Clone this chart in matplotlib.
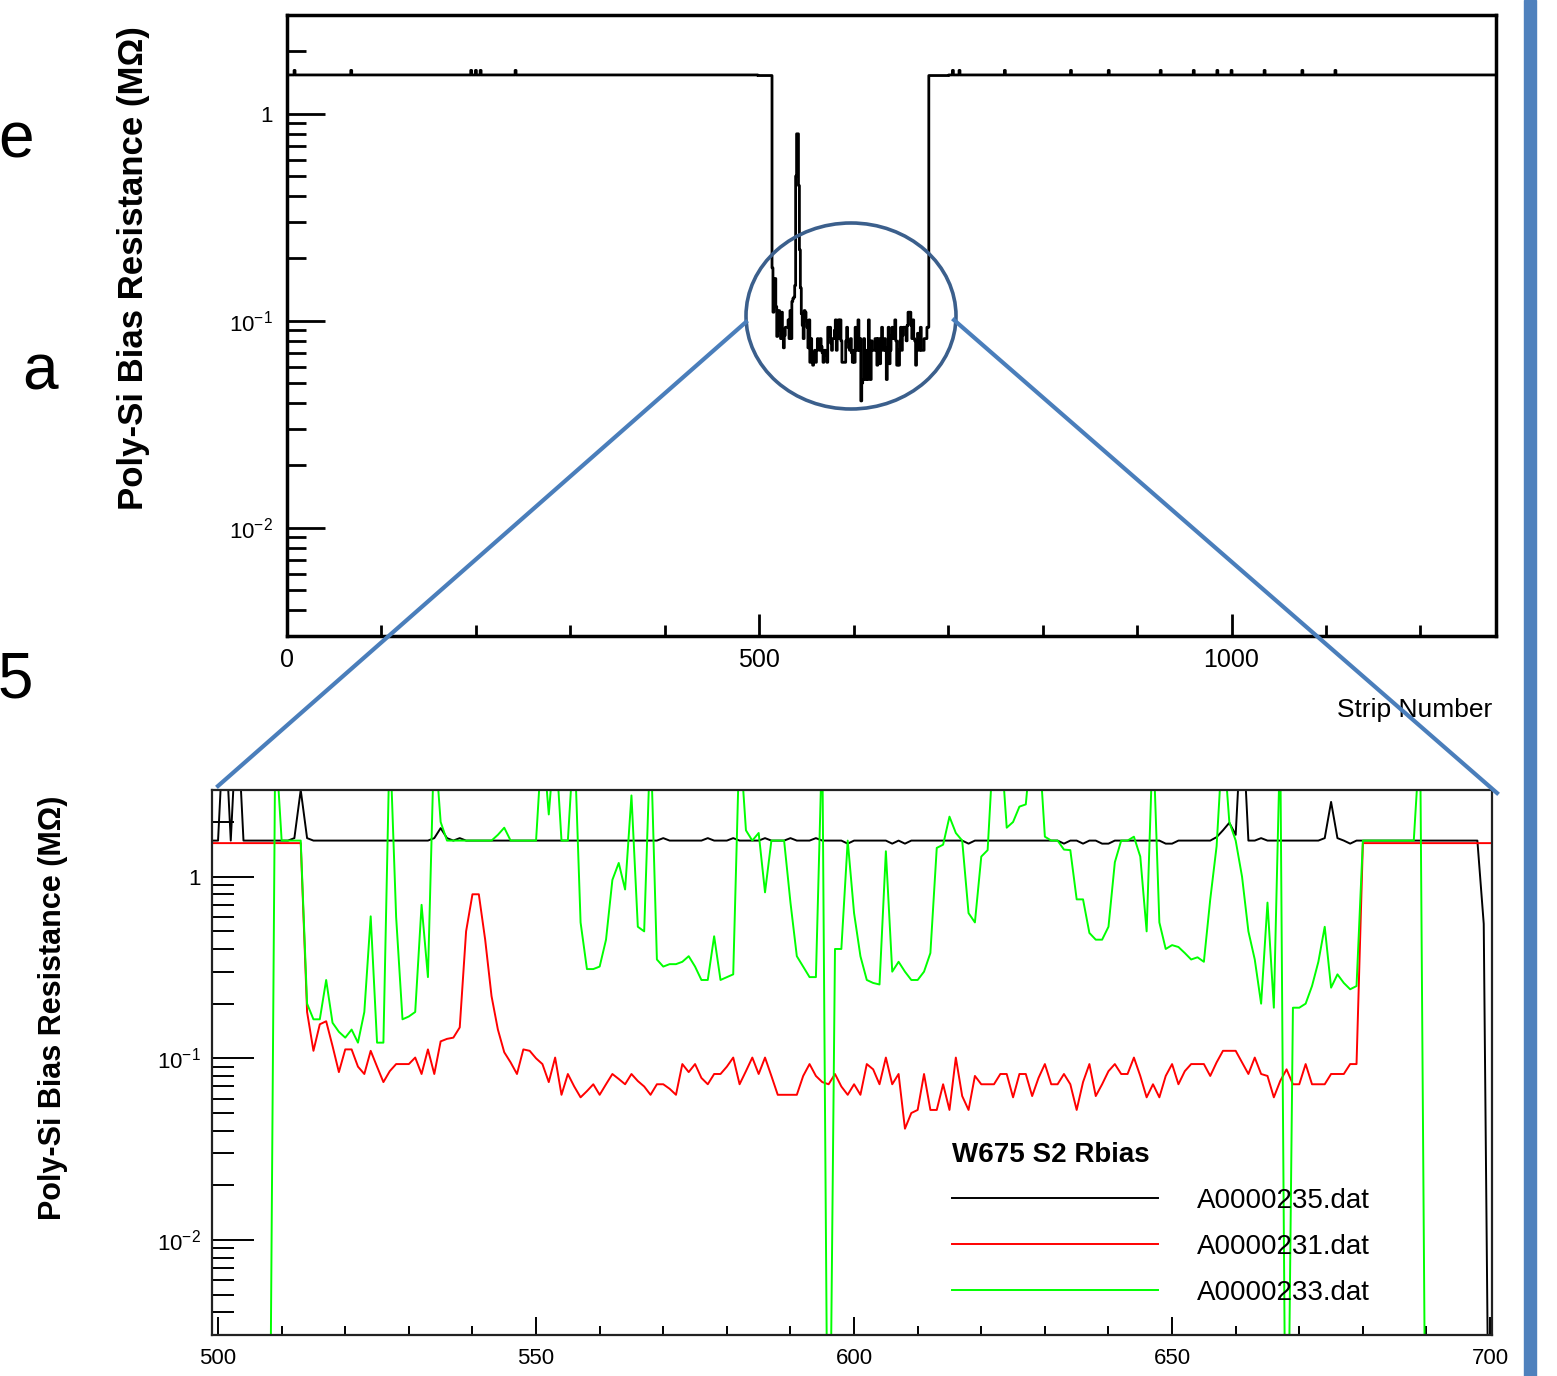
import numpy as np
import matplotlib
matplotlib.use("Agg")
import matplotlib.pyplot as plt
from matplotlib import ticker
from matplotlib.patches import Ellipse, Rectangle
from matplotlib.lines import Line2D
from matplotlib.transforms import Affine2D

plt.rcParams['font.family'] = ['Liberation Sans', 'DejaVu Sans']
plt.rcParams['mathtext.fontset'] = 'custom'
plt.rcParams['mathtext.rm'] = 'Liberation Sans'
plt.rcParams['mathtext.it'] = 'Liberation Sans:italic'
plt.rcParams['mathtext.bf'] = 'Liberation Sans:bold'

# ---- data (strip number vs poly-Si bias resistance in MOhm) ----
strips = np.arange(499, 701)

# A0000235.dat (black), strips 499..700
rbias_235 = [
    1.58, 1.58, 8.0, 1.58, 8.0, 1.58, 1.58, 1.58, 1.58, 1.58,
    1.58, 1.58, 1.58, 1.63, 3.0, 1.63, 1.58, 1.58, 1.58, 1.58,
    1.58, 1.58, 1.58, 1.58, 1.58, 1.58, 1.58, 1.58, 1.58, 1.58,
    1.58, 1.58, 1.58, 1.58, 1.58, 1.63, 1.85, 1.63, 1.58, 1.63,
    1.58, 1.58, 1.58, 1.58, 1.58, 1.58, 1.58, 1.58, 1.58, 1.58,
    1.58, 1.58, 1.58, 1.58, 1.58, 1.58, 1.58, 1.58, 1.58, 1.58,
    1.58, 1.58, 1.58, 1.58, 1.58, 1.58, 1.58, 1.58, 1.58, 1.58,
    1.58, 1.63, 1.58, 1.58, 1.58, 1.58, 1.58, 1.58, 1.63, 1.58,
    1.58, 1.58, 1.63, 1.58, 1.58, 1.58, 1.58, 1.63, 1.58, 1.58,
    1.58, 1.63, 1.58, 1.58, 1.58, 1.63, 1.58, 1.58, 1.58, 1.58,
    1.52, 1.58, 1.58, 1.58, 1.58, 1.58, 1.58, 1.52, 1.58, 1.52,
    1.58, 1.58, 1.58, 1.58, 1.58, 1.58, 1.58, 1.58, 1.58, 1.52,
    1.58, 1.58, 1.58, 1.58, 1.58, 1.58, 1.58, 1.58, 1.58, 1.58,
    1.58, 1.58, 1.58, 1.58, 1.52, 1.58, 1.58, 1.52, 1.58, 1.58,
    1.52, 1.52, 1.58, 1.58, 1.58, 1.58, 1.58, 1.58, 1.58, 1.58,
    1.52, 1.52, 1.58, 1.58, 1.58, 1.58, 1.58, 1.58, 1.65, 1.8,
    1.98, 1.7, 8.0, 1.58, 1.58, 1.63, 1.58, 1.58, 1.58, 1.58,
    1.58, 1.58, 1.58, 1.58, 1.58, 1.63, 2.58, 1.63, 1.58, 1.52,
    1.58, 1.58, 1.58, 1.58, 1.58, 1.58, 1.58, 1.58, 1.58, 1.58,
    1.58, 1.58, 1.58, 1.58, 1.58, 1.58, 1.58, 1.58, 1.58, 1.58,
    0.55, 1e-4,
]

# A0000231.dat (red), strips 499..700
rbias_231 = [
    1.53, 1.53, 1.53, 1.53, 1.53, 1.53, 1.53, 1.53, 1.53, 1.53,
    1.53, 1.53, 1.53, 1.53, 1.53, 0.18, 0.11, 0.154, 0.16, 0.117,
    0.084, 0.112, 0.112, 0.09, 0.082, 0.11, 0.09, 0.074, 0.085, 0.093,
    0.093, 0.093, 0.101, 0.082, 0.112, 0.082, 0.124, 0.128, 0.13, 0.148,
    0.5, 0.8, 0.8, 0.45, 0.22, 0.144, 0.108, 0.095, 0.082, 0.112,
    0.11, 0.1, 0.093, 0.074, 0.101, 0.063, 0.082, 0.07, 0.061, 0.066,
    0.072, 0.063, 0.072, 0.082, 0.077, 0.072, 0.082, 0.075, 0.07, 0.063,
    0.072, 0.072, 0.068, 0.063, 0.093, 0.084, 0.093, 0.078, 0.072, 0.082,
    0.082, 0.09, 0.101, 0.072, 0.085, 0.101, 0.082, 0.101, 0.08, 0.063,
    0.063, 0.063, 0.063, 0.08, 0.093, 0.08, 0.074, 0.072, 0.082, 0.07,
    0.063, 0.072, 0.063, 0.093, 0.087, 0.072, 0.101, 0.072, 0.082, 0.041,
    0.05, 0.052, 0.082, 0.052, 0.052, 0.072, 0.052, 0.101, 0.062, 0.052,
    0.08, 0.072, 0.072, 0.072, 0.082, 0.082, 0.061, 0.082, 0.082, 0.062,
    0.078, 0.093, 0.072, 0.072, 0.082, 0.072, 0.052, 0.074, 0.093, 0.062,
    0.072, 0.085, 0.093, 0.082, 0.082, 0.101, 0.08, 0.061, 0.072, 0.061,
    0.08, 0.093, 0.072, 0.085, 0.093, 0.093, 0.093, 0.08, 0.095, 0.11,
    0.11, 0.11, 0.095, 0.082, 0.101, 0.082, 0.08, 0.061, 0.075, 0.087,
    0.072, 0.072, 0.093, 0.072, 0.072, 0.072, 0.082, 0.082, 0.082, 0.093,
    0.093, 1.53, 1.53, 1.53, 1.53, 1.53, 1.53, 1.53, 1.53, 1.53,
    1.53, 1.53, 1.53, 1.53, 1.53, 1.53, 1.53, 1.53, 1.53, 1.53,
    1.53, 1.53,
]

# A0000233.dat (green), strips 499..700
rbias_233 = [
    1e-4, 1e-4, 1e-4, 1e-4, 1e-4, 1e-4, 1e-4, 1e-4, 1e-4, 1e-4,
    6.0, 1.58, 1.58, 1.58, 1.58, 0.2, 0.164, 0.164, 0.27, 0.157,
    0.14, 0.13, 0.144, 0.122, 0.18, 0.605, 0.122, 0.122, 6.0, 0.6,
    0.164, 0.17, 0.18, 0.7, 0.28, 6.0, 2.0, 1.58, 1.58, 1.58,
    1.58, 1.58, 1.58, 1.58, 1.58, 1.7, 1.86, 1.58, 1.58, 1.58,
    1.58, 1.58, 6.0, 2.2, 6.0, 1.58, 1.58, 6.0, 0.56, 0.31,
    0.31, 0.32, 0.45, 0.96, 1.19, 0.85, 2.8, 0.53, 0.5, 6.0,
    0.35, 0.32, 0.33, 0.33, 0.34, 0.365, 0.32, 0.27, 0.27, 0.47,
    0.27, 0.28, 0.29, 6.0, 1.8, 1.58, 1.74, 0.82, 1.58, 1.58,
    1.58, 0.72, 0.365, 0.32, 0.28, 0.28, 6.0, 1e-4, 0.4, 0.4,
    1.58, 0.63, 0.365, 0.27, 0.26, 0.255, 1.38, 0.3, 0.34, 0.3,
    0.27, 0.27, 0.3, 0.38, 1.44, 1.5, 2.14, 1.74, 1.58, 0.63,
    0.56, 1.29, 1.4, 6.0, 6.0, 1.86, 2.0, 2.43, 2.5, 6.0,
    6.0, 1.66, 1.58, 1.58, 1.41, 1.4, 0.75, 0.75, 0.49, 0.45,
    0.45, 0.53, 1.2, 1.58, 1.58, 1.66, 1.29, 0.5, 6.0, 0.56,
    0.4, 0.42, 0.41, 0.38, 0.35, 0.36, 0.34, 0.75, 1.47, 6.0,
    2.0, 1.58, 1.0, 0.5, 0.35, 0.2, 0.72, 0.19, 6.0, 1e-4,
    0.19, 0.19, 0.2, 0.25, 0.34, 0.53, 0.245, 0.29, 0.26, 0.24,
    0.25, 1.58, 1.58, 1.58, 1.58, 1.58, 1.58, 1.58, 1.58, 1.58,
    6.0, 1e-4, 1e-4, 1e-4, 1e-4, 1e-4, 1e-4, 1e-4, 1e-4, 1e-4,
    1e-4, 1e-4,
]

labels = ['A0000235.dat', 'A0000231.dat', 'A0000233.dat']
colors = ['black', '#ff0000', '#00ff00']
legend_title = 'W675 S2 Rbias'

# full sensor scan (top panel): flat plateau, the red scan fills 499..700
full_strips = np.arange(0, 1281)
plateau = 1.54
blip_strips = [8, 68, 195, 200, 205, 242, 690, 700, 705, 712, 760, 830, 870, 925, 960, 985, 1000, 1035, 1075, 1110]
blip_vals = [1.62] * len(blip_strips)

ytick_vals = [0.01, 0.1, 1]
ytick_labels = ['$10^{-2}$', '$10^{-1}$', '1']
ylabel = 'Poly-Si Bias Resistance (M\u03a9)'

# ---- figure ----
W, H = 1557, 1376
fig = plt.figure(figsize=(W / 100, H / 100), dpi=100)
px = Affine2D().scale(1, -1).translate(0, H)   # image pixel coords


def rect(l, t, r, b):
    return [l / W, 1 - b / H, (r - l) / W, (b - t) / H]


def log_axis(ax, major_len, minor_len, width, pad, size):
    ax.set_yscale('log')
    ax.set_ylim(0.003, 3)
    ax.yaxis.set_major_locator(ticker.FixedLocator(ytick_vals))
    ax.yaxis.set_major_formatter(ticker.FixedFormatter(ytick_labels))
    ax.yaxis.set_minor_locator(ticker.LogLocator(base=10, subs=np.arange(2, 10)))
    ax.yaxis.set_minor_formatter(ticker.NullFormatter())
    ax.tick_params(axis='y', which='major', direction='in', length=major_len, width=width,
                   pad=pad, labelsize=size)
    ax.tick_params(axis='y', which='minor', direction='in', length=minor_len, width=width)


# top panel
full_rbias = np.full(len(full_strips), plateau)
full_rbias[blip_strips] = blip_vals
full_rbias[499:701] = rbias_231

ax1 = fig.add_axes(rect(287, 15, 1496, 636))
ax1.plot(full_strips, full_rbias, color='black', lw=2.0, drawstyle='steps-mid')
ax1.set_xlim(0, 1280)
log_axis(ax1, 27, 14, 2.0, 10, 16)
ax1.xaxis.set_major_locator(ticker.FixedLocator([0, 500, 1000]))
ax1.xaxis.set_minor_locator(ticker.MultipleLocator(100))
ax1.tick_params(axis='x', which='major', direction='in', length=16, width=2.0, pad=9, labelsize=18)
ax1.tick_params(axis='x', which='minor', direction='in', length=8, width=2.0)
for s in ax1.spines.values():
    s.set_linewidth(2.5)

# bottom panel (zoom)
ax2 = fig.add_axes(rect(212, 790, 1492, 1335))
series = [rbias_235, rbias_231, rbias_233]
handles = []
for vals, c, lab in zip(series, colors, labels):
    ln, = ax2.plot(strips, vals, color=c, lw=1.4, label=lab)
    handles.append(ln)
ax2.set_xlim(499.05, 700.3)
log_axis(ax2, 30, 16, 1.4, 8, 16)
ax2.xaxis.set_major_locator(ticker.MultipleLocator(50))
ax2.xaxis.set_minor_locator(ticker.MultipleLocator(10))
ax2.tick_params(axis='x', which='major', direction='in', length=13, width=1.4, pad=9, labelsize=16)
ax2.tick_params(axis='x', which='minor', direction='in', length=6.5, width=1.4)
for s in ax2.spines.values():
    s.set_linewidth(1.6)
    s.set_color('#222222')

ax2.legend(handles, labels, title=legend_title, loc='upper left',
           bbox_to_anchor=(952 / W, 1 - 1142 / H), bbox_transform=fig.transFigure,
           frameon=False, fontsize=20, title_fontproperties={'weight': 'bold', 'size': 20},
           handlelength=7.4, handletextpad=1.4, labelspacing=0.72,
           borderpad=0, borderaxespad=0, alignment='left')

# axis titles
fig.text(133, 268, ylabel, transform=px, rotation=90, ha='center', va='center',
         fontsize=25, fontweight='bold')
fig.text(53, 1008, ylabel, transform=px, rotation=90, ha='center', va='center',
         fontsize=22, fontweight='bold')
fig.text(1492, 710, 'Strip Number', transform=px, ha='right', va='center', fontsize=19)

# slide decorations: zoom circle and connector lines
fig.add_artist(Ellipse((851, 316), 210, 186, transform=px, fill=False,
                       edgecolor='#3b5f8c', lw=2.6, zorder=10))
fig.add_artist(Line2D([746, 218], [322, 786], transform=px, color='#4a7ebb', lw=3.0, zorder=10))
fig.add_artist(Line2D([954, 1497], [320, 793], transform=px, color='#4a7ebb', lw=3.0, zorder=10))
fig.add_artist(Rectangle((1524, 0), 12, H, transform=px, color='#4f81bd', zorder=10))

# cut-off slide text on the left edge
for ch, x, y in [('e', -2, 140), ('a', 22, 372), ('5', -2, 680)]:
    fig.text(x, y, ch, transform=px, ha='left', va='center', fontsize=46)

fig.savefig('out.png', dpi=100)
